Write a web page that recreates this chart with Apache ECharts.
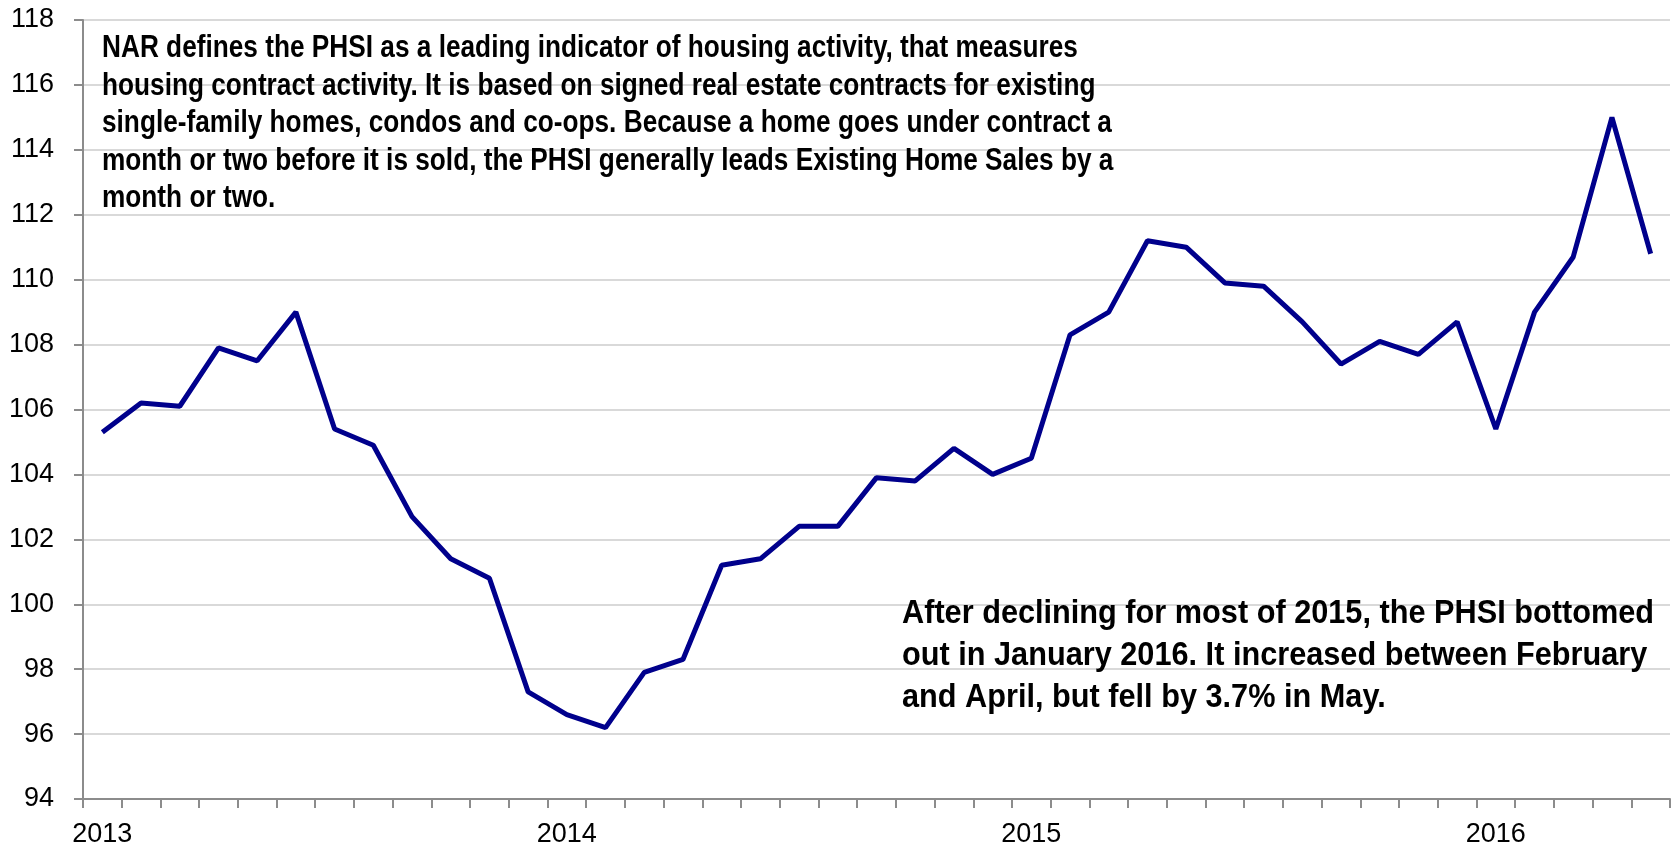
<!DOCTYPE html>
<html>
<head>
<meta charset="utf-8">
<title>PHSI</title>
<script src="https://cdn.jsdelivr.net/npm/echarts@6/dist/echarts.min.js"></script>
<style>
  html, body { margin: 0; padding: 0; background: #ffffff; }
  #chart { width: 1674px; height: 853px; }
</style>
</head>
<body>
<div id="chart"></div>
<script>
// monthly categories, Jan 2013 - May 2016
const months = [
  "2013-01", "2013-02", "2013-03", "2013-04", "2013-05", "2013-06",
  "2013-07", "2013-08", "2013-09", "2013-10", "2013-11", "2013-12",
  "2014-01", "2014-02", "2014-03", "2014-04", "2014-05", "2014-06",
  "2014-07", "2014-08", "2014-09", "2014-10", "2014-11", "2014-12",
  "2015-01", "2015-02", "2015-03", "2015-04", "2015-05", "2015-06",
  "2015-07", "2015-08", "2015-09", "2015-10", "2015-11", "2015-12",
  "2016-01", "2016-02", "2016-03", "2016-04", "2016-05"
];
// pending home sales index
const phsi = [
  105.3, 106.2, 106.1, 107.9, 107.5, 109.0, 105.4, 104.9, 102.7, 101.4, 100.8, 97.3,
  96.6, 96.2, 97.9, 98.3, 101.2, 101.4, 102.4, 102.4, 103.9, 103.8, 104.8, 104.0,
  104.5, 108.3, 109.0, 111.2, 111.0, 109.9, 109.8, 108.7, 107.4, 108.1, 107.7, 108.7,
  105.4, 109.0, 110.7, 115.0, 110.8
];
// year labels shown on the x axis
const yearLabels = ["2013", "2014", "2015", "2016"];
// y axis range
const yMin = 94;
const yMax = 118;
const yStep = 2;

const noteTop = "NAR defines the PHSI as a leading indicator of housing activity, that measures\n" +
  "housing contract activity. It is based on signed real estate contracts for existing\n" +
  "single-family homes, condos and co-ops. Because a home goes under contract a\n" +
  "month or two before it is sold, the PHSI generally leads Existing Home Sales by a\n" +
  "month or two.";
const noteBottom = "After declining for most of 2015, the PHSI bottomed\n" +
  "out in January 2016. It increased between February\n" +
  "and April, but fell by 3.7% in May.";

const font = "Liberation Sans";

var myChart = echarts.init(document.getElementById("chart"));
let option = {
  animation: false,
  grid: {
    left: 83,
    right: 4,
    top: 20,
    bottom: 54
  },
  xAxis: {
    type: "category",
    data: months,
    boundaryGap: true,
    axisLine: {
      lineStyle: { color: "#8c8c8c", width: 2 }
    },
    axisTick: {
      show: true,
      interval: 0,
      length: 9,
      lineStyle: { color: "#8c8c8c", width: 2 }
    },
    axisLabel: {
      interval: 0,
      margin: 22,
      color: "#000",
      fontSize: 27,
      fontFamily: font,
      formatter: function(v) {
        let y = v.slice(0, 4);
        return v.slice(5) === "01" && yearLabels.indexOf(y) > -1 ? y : "";
      }
    },
    splitLine: { show: false }
  },
  yAxis: {
    type: "value",
    min: yMin,
    max: yMax,
    interval: yStep,
    axisLine: {
      show: true,
      lineStyle: { color: "#8c8c8c", width: 2 }
    },
    axisTick: {
      show: true,
      length: 9,
      lineStyle: { color: "#8c8c8c", width: 2 }
    },
    axisLabel: {
      margin: 29,
      color: "#000",
      fontSize: 27,
      fontFamily: font
    },
    splitLine: {
      lineStyle: { color: "#d9d9d9", width: 2 }
    }
  },
  series: [
    {
      type: "line",
      data: phsi,
      symbol: "none",
      lineStyle: { color: "#00008c", width: 5 },
      z: 3
    }
  ],
  graphic: [
    {
      // condensed bold note, top left
      type: "text",
      x: 102,
      y: 30,
      scaleX: 0.846,
      z: 10,
      style: {
        text: noteTop,
        fill: "#000",
        font: "bold 31px " + font,
        lineHeight: 37.5,
        verticalAlign: "top"
      }
    },
    {
      type: "text",
      x: 902,
      y: 593,
      scaleX: 0.93,
      z: 10,
      style: {
        text: noteBottom,
        fill: "#000",
        font: "bold 33px " + font,
        lineHeight: 42,
        verticalAlign: "top"
      }
    }
  ]
};
myChart.setOption(option);
</script>
</body>
</html>
